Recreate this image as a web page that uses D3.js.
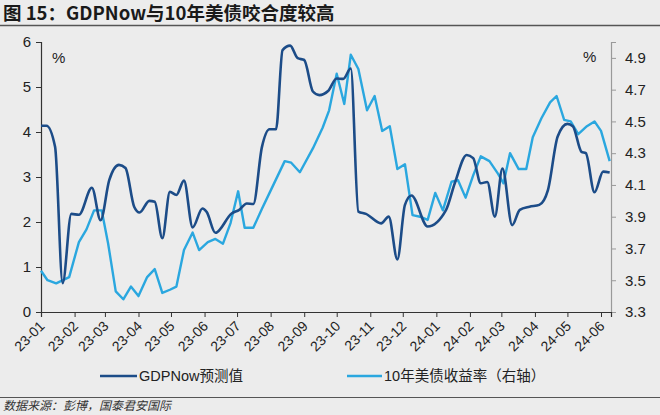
<!DOCTYPE html>
<html><head><meta charset="utf-8">
<script src="https://cdn.jsdelivr.net/npm/d3@7"></script>
<style>
html,body{margin:0;padding:0;background:#ececec;}
svg{display:block;font-family:"Liberation Sans",Arial,"Noto Sans CJK SC",sans-serif;}
</style></head><body>
<svg id="c" width="660" height="415"></svg>
<script>
const gdpDates = ["2023-01-01","2023-01-06","2023-01-14","2023-01-21","2023-01-29","2023-02-05","2023-02-17","2023-02-25","2023-03-05","2023-03-14","2023-03-20","2023-03-28","2023-04-02","2023-04-11","2023-04-16","2023-04-23","2023-04-30","2023-05-06","2023-05-13","2023-05-21","2023-05-30","2023-06-03","2023-06-11","2023-06-26","2023-07-03","2023-07-10","2023-07-16","2023-07-24","2023-07-31","2023-08-06","2023-08-12","2023-08-19","2023-08-26","2023-09-01","2023-09-09","2023-09-15","2023-09-23","2023-10-01","2023-10-07","2023-10-14","2023-10-21","2023-10-28","2023-11-11","2023-11-18","2023-11-26","2023-12-03","2023-12-09","2023-12-24","2024-01-10","2024-01-18","2024-01-29","2024-02-04","2024-02-11","2024-02-17","2024-02-24","2024-03-02","2024-03-11","2024-03-18","2024-03-27","2024-04-05","2024-04-13","2024-04-22","2024-05-01","2024-05-06","2024-05-14","2024-05-18","2024-05-26","2024-06-03","2024-06-09"];
const gdpValues = [4.14,4.14,3.67,0.64,2.18,2.16,2.76,2.04,2.93,3.27,3.2,2.34,2.21,2.47,2.45,1.64,2.67,2.6,2.92,1.88,2.3,2.22,1.76,2.19,2.27,2.41,2.4,3.67,4.06,4.06,5.82,5.92,5.64,5.6,4.9,4.82,4.91,5.19,5.18,5.41,2.23,2.18,1.97,2.12,1.17,2.38,2.59,1.9,2.27,2.86,3.49,3.42,2.86,2.89,2.12,3.19,1.93,2.27,2.34,2.38,2.71,3.9,4.18,4.13,3.56,3.53,2.66,3.12,3.1];
const ustDates = ["2023-01-01","2023-01-07","2023-01-15","2023-01-27","2023-02-05","2023-02-12","2023-02-19","2023-02-26","2023-03-04","2023-03-11","2023-03-18","2023-03-25","2023-04-01","2023-04-09","2023-04-16","2023-04-23","2023-04-30","2023-05-06","2023-05-13","2023-05-21","2023-05-27","2023-06-04","2023-06-11","2023-06-18","2023-06-25","2023-07-02","2023-07-08","2023-07-16","2023-07-24","2023-07-31","2023-08-14","2023-08-20","2023-08-28","2023-09-09","2023-09-18","2023-09-24","2023-10-01","2023-10-08","2023-10-14","2023-10-21","2023-10-29","2023-11-05","2023-11-12","2023-11-19","2023-11-26","2023-12-03","2023-12-10","2023-12-17","2023-12-24","2023-12-31","2024-01-07","2024-01-15","2024-01-21","2024-01-28","2024-02-04","2024-02-11","2024-02-19","2024-02-27","2024-03-03","2024-03-09","2024-03-17","2024-03-24","2024-03-30","2024-04-07","2024-04-15","2024-04-21","2024-04-28","2024-05-04","2024-05-11","2024-05-19","2024-05-26","2024-06-01","2024-06-09"];
const ustValues = [3.56,3.50,3.48,3.52,3.74,3.82,3.94,3.94,3.73,3.43,3.38,3.46,3.40,3.52,3.57,3.42,3.44,3.46,3.69,3.80,3.69,3.74,3.76,3.73,3.86,4.06,3.83,3.83,3.95,4.05,4.25,4.24,4.18,4.33,4.46,4.57,4.80,4.61,4.92,4.83,4.57,4.66,4.44,4.47,4.20,4.23,3.91,3.90,3.88,4.05,3.94,4.12,4.13,4.02,4.16,4.28,4.25,4.17,4.11,4.30,4.20,4.20,4.40,4.52,4.62,4.66,4.51,4.50,4.42,4.47,4.50,4.44,4.25];
const xTickLabels = ["23-01","23-02","23-03","23-04","23-05","23-06","23-07","23-08","23-09","23-10","23-11","23-12","24-01","24-02","24-03","24-04","24-05","24-06"];
const leftTicks = [0,1,2,3,4,5,6];
const rightTicks = [3.3,3.5,3.7,3.9,4.1,4.3,4.5,4.7,4.9];
const seriesNames = ["GDPNow预测值","10年美债收益率（右轴）"];
const titleText = "图 15：GDPNow与10年美债咬合度较高";
const sourceText = "数据来源：彭博，国泰君安国际";

const svg = d3.select("#c");
const W = 660, H = 415;
const mLeft = 41, mRight = 611, mTop = 42, mBottom = 312;
const parse = d3.timeParse("%Y-%m-%d");
const tickDates = xTickLabels.map(s => new Date(2000 + +s.slice(0,2), +s.slice(3) - 1, 1));

const x = d3.scaleTime()
  .domain([tickDates[0], new Date(tickDates[0].getTime() + (tickDates[17]-tickDates[0]) * (mRight-mLeft)/(601-mLeft))])
  .range([mLeft, mRight]);
const yL = d3.scaleLinear().domain([0,6]).range([mBottom, mTop]);
const yR = d3.scaleLinear().domain([3.3,5.0]).range([mBottom, mTop]);

const dark = "#1c4c88", light = "#2aa7df";

// title
svg.append("text").attr("x",3).attr("y",20).attr("font-size",18.5).attr("font-weight","bold")
  .attr("fill","#1a1a1a").attr("font-family","'Noto Sans CJK SC',sans-serif").text(titleText);
svg.append("line").attr("x1",0).attr("x2",W).attr("y1",25.5).attr("y2",25.5).attr("stroke","#555").attr("stroke-width",1.5);
svg.append("line").attr("x1",0).attr("x2",W).attr("y1",397.5).attr("y2",397.5).attr("stroke","#555").attr("stroke-width",1);
svg.append("text").attr("x",3).attr("y",410).attr("font-size",12).attr("font-style","italic")
  .attr("fill","#333").attr("font-family","'Noto Sans CJK SC',sans-serif").text(sourceText);

// axes
const axL = d3.axisLeft(yL).tickValues(leftTicks).tickSize(5).tickPadding(5).tickFormat(d3.format("d"));
const gL = svg.append("g").attr("transform",`translate(${mLeft},0)`).call(axL);
gL.select(".domain").attr("stroke","#333").attr("stroke-width",1.2);
gL.selectAll(".tick line").attr("stroke","#333");
gL.selectAll("text").attr("font-size",15).attr("fill","#222").attr("font-family","'Liberation Sans',Arial,sans-serif");

const axR = d3.axisRight(yR).tickValues(rightTicks).tickSize(5).tickPadding(9).tickFormat(d3.format(".1f"));
const gR = svg.append("g").attr("transform",`translate(${mRight},0)`).call(axR);
gR.select(".domain").attr("stroke","#999").attr("stroke-width",1.2);
gR.selectAll(".tick line").attr("stroke","#999");
gR.selectAll("text").attr("font-size",15).attr("fill","#222").attr("font-family","'Liberation Sans',Arial,sans-serif");

const axX = d3.axisBottom(x).tickValues(tickDates).tickSize(5).tickFormat((d,i)=>xTickLabels[i]);
const gX = svg.append("g").attr("transform",`translate(0,${mBottom})`).call(axX);
gX.select(".domain").attr("stroke","#333").attr("stroke-width",1.2);
gX.selectAll(".tick line").attr("stroke","#333");
gX.selectAll("text").attr("font-size",14).attr("fill","#222").attr("font-family","'Liberation Sans',Arial,sans-serif")
  .attr("text-anchor","end").attr("dy",0).attr("y",0)
  .attr("transform","translate(4,15) rotate(-45)");

svg.append("text").attr("x",52).attr("y",63).attr("font-size",15).attr("fill","#222").text("%");
svg.append("text").attr("x",583).attr("y",62).attr("font-size",15).attr("fill","#222").text("%");

// lines
const gdp = gdpDates.map((d,i)=>({d:parse(d), v:gdpValues[i]}));
const ust = ustDates.map((d,i)=>({d:parse(d), v:ustValues[i]}));
svg.append("path").datum(ust).attr("fill","none").attr("stroke",light).attr("stroke-width",2.4)
  .attr("stroke-linejoin","round")
  .attr("d", d3.line().x(p=>x(p.d)).y(p=>yR(p.v)));
svg.append("path").datum(gdp).attr("fill","none").attr("stroke",dark).attr("stroke-width",2.6)
  .attr("stroke-linejoin","round")
  .attr("d", d3.line().curve(d3.curveMonotoneX).x(p=>x(p.d)).y(p=>yL(p.v)));

// legend
const lg = svg.append("g").attr("font-family","'Liberation Sans','Noto Sans CJK SC',sans-serif").attr("font-size",14.5).attr("fill","#222");
lg.append("line").attr("x1",100).attr("x2",137).attr("y1",376).attr("y2",376).attr("stroke",dark).attr("stroke-width",2.6);
lg.append("text").attr("x",139).attr("y",381).text(seriesNames[0]);
lg.append("line").attr("x1",347).attr("x2",382).attr("y1",376).attr("y2",376).attr("stroke",light).attr("stroke-width",2.6);
lg.append("text").attr("x",384).attr("y",381).text(seriesNames[1]);
</script></body></html>
